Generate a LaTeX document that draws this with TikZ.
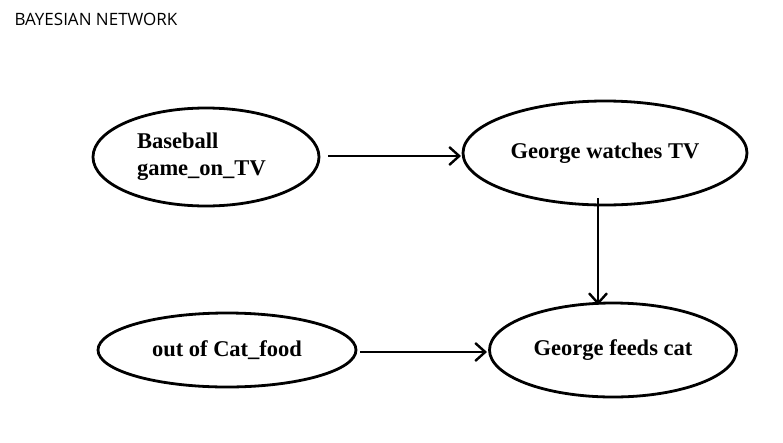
\documentclass[tikz,border=0pt]{standalone}
\usepackage{fontspec}
\setmainfont{Liberation Serif}
\newfontfamily\titlefont{Open Sans}
\usetikzlibrary{shapes.geometric,arrows.meta}
\begin{document}
\begin{tikzpicture}[x=1pt,y=-1pt,
  ell/.style={draw,ellipse,line width=2.8pt,inner sep=0pt,font=\bfseries\fontsize{22.5}{27}\selectfont},
  arr/.style={line width=2.8pt,-{Straight Barb[length=10pt,width=18pt,line width=2.4pt]}}]
\useasboundingbox (0,0) rectangle (783,442);
\node[anchor=west,font=\titlefont\fontsize{17}{20}\selectfont] (t) at (11,19) {BAYESIAN NETWORK};
\node[ell,minimum width=226pt,minimum height=98pt,align=left,text width=138pt] (a) at (206,157) {Baseball\\game\_on\_TV};
\node[ell,minimum width=284pt,minimum height=104pt] (b) at (605,153) {George watches TV};
\node[ell,minimum width=258pt,minimum height=74pt] (c) at (227,350) {out of Cat\_food};
\node[ell,minimum width=247pt,minimum height=94pt] (d) at (613,350) {George feeds cat};
\coordinate (a1) at (328,156); \coordinate (b1) at (461,156);
\coordinate (b2) at (598,198); \coordinate (d2) at (598,305);
\coordinate (c1) at (360,352); \coordinate (d1) at (487,352);
\draw[arr] (a1) -- (b1);
\draw[arr] (b2) -- (d2);
\draw[arr] (c1) -- (d1);
\end{tikzpicture}
\end{document}
